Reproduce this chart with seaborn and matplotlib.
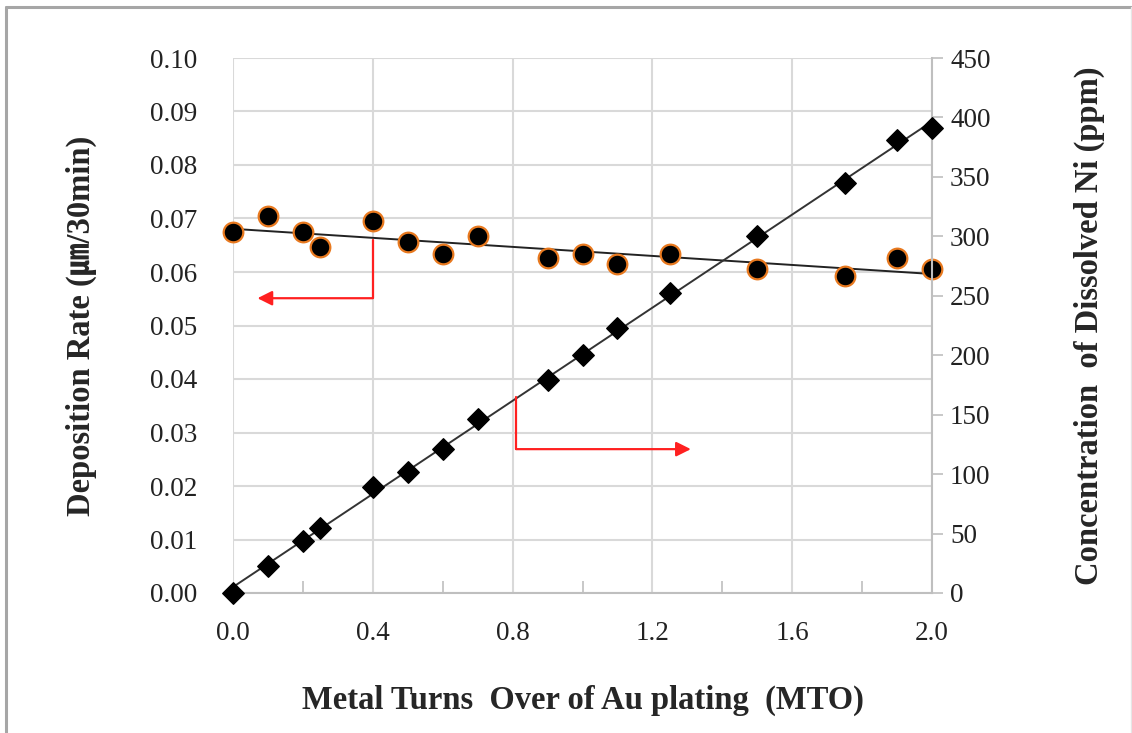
import numpy as np
import pandas as pd
import matplotlib
matplotlib.use("Agg")
import matplotlib.pyplot as plt
from matplotlib.lines import Line2D
from matplotlib.ticker import MultipleLocator, FormatStrFormatter
import seaborn as sns

# Metal turn-over (MTO) of the Au plating bath
mto = [0.0, 0.1, 0.2, 0.25, 0.4, 0.5, 0.6, 0.7, 0.9, 1.0, 1.1, 1.25, 1.5, 1.75, 1.9, 2.0]
# Deposition rate (um / 30 min)
deposition_rate = [0.0675, 0.0705, 0.0675, 0.0647, 0.0695, 0.0656, 0.0634, 0.0667,
                   0.0626, 0.0634, 0.0615, 0.0634, 0.0606, 0.0593, 0.0626, 0.0606]
# Dissolved Ni in the bath (ppm)
dissolved_ni = [0, 23, 44, 55, 89, 102, 121, 146, 179, 200, 223, 252, 300, 345, 381, 391]

x_ticks = [0.0, 0.4, 0.8, 1.2, 1.6, 2.0]

df = pd.DataFrame({"mto": mto, "rate": deposition_rate, "ni": dissolved_ni})

sns.set_theme(style="white")
plt.rcParams["font.family"] = ["Liberation Serif", "Noto Sans CJK JP"]

W, H = 1132, 733
fig = plt.figure(figsize=(W / 100, H / 100), dpi=100)
fig.patch.set_facecolor("white")
ax = fig.add_axes([233 / W, 1 - 593 / H, (932 - 233) / W, (593 - 58) / H])
ax2 = ax.twinx()

grid_c = "#d9d9d9"
tick_fs = 19.5
label_fs = 23.5

# deposition rate: black dots with orange rim and a linear trend
sns.regplot(data=df, x="mto", y="rate", ax=ax, ci=None, truncate=True,
            scatter_kws=dict(s=200, color="black", edgecolors="#e8791f", alpha=1,
                             linewidths=1.6, zorder=4, clip_on=False),
            line_kws=dict(color="#222222", lw=1.4, zorder=3))

# dissolved Ni: black diamonds with a linear trend
sns.regplot(data=df, x="mto", y="ni", ax=ax2, ci=None, truncate=True, marker="D",
            scatter_kws=dict(s=120, color="black", edgecolors="black", alpha=1,
                             zorder=4, clip_on=False),
            line_kws=dict(color="#333333", lw=1.4, zorder=3))

ax.set_xlim(0, 2.0)
ax.set_ylim(0, 0.10)
ax2.set_ylim(0, 450)

ax.set_xticks(x_ticks)
ax.set_xticklabels([f"{v:.1f}" for v in x_ticks])
ax.xaxis.set_minor_locator(MultipleLocator(0.2))
ax.yaxis.set_major_locator(MultipleLocator(0.01))
ax.yaxis.set_major_formatter(FormatStrFormatter("%.2f"))
ax2.yaxis.set_major_locator(MultipleLocator(50))

ax.grid(True, which="major", color=grid_c, lw=1.5, zorder=0)
ax.set_axisbelow(True)

for a in (ax, ax2):
    for s in ("top", "left", "right", "bottom"):
        a.spines[s].set_visible(False)
ax2.spines["right"].set_visible(True)
ax2.spines["right"].set_color("#bfbfbf")
ax2.spines["right"].set_linewidth(1.5)
ax.spines["bottom"].set_visible(True)
ax.spines["bottom"].set_color("#bfbfbf")
ax.spines["bottom"].set_linewidth(1.5)

ax.tick_params(axis="y", length=0, pad=26, labelsize=tick_fs, labelcolor="#222222")
ax.tick_params(axis="x", which="major", length=0, pad=20, labelsize=tick_fs,
               labelcolor="#222222")
ax.tick_params(axis="x", which="minor", direction="in", length=9, width=1.2,
               color="#bfbfbf", bottom=True)
ax2.tick_params(axis="y", direction="out", length=8, width=1.2, color="#bfbfbf",
                pad=5, labelsize=tick_fs, labelcolor="#222222")

ax.set_xlabel("Metal Turns  Over of Au plating  (MTO)", fontsize=label_fs,
              fontweight="bold", labelpad=28)
ax.set_ylabel("Deposition Rate (\u339b/30min)", fontsize=label_fs,
              fontweight="bold", labelpad=38)
ax2.set_ylabel("Concentration  of Dissolved Ni (ppm)", fontsize=label_fs,
               fontweight="bold", labelpad=60)

# guide arrows pointing each series to its axis
red = "#ff2020"
ax.plot([0.40, 0.40], [0.0660, 0.0551], color=red, lw=1.6, zorder=5)
ax.annotate("", xy=(0.07, 0.0551), xytext=(0.4, 0.0551),
            arrowprops=dict(arrowstyle="-|>", color=red, lw=1.6,
                            mutation_scale=22, shrinkA=0, shrinkB=0), zorder=5)
ax2.plot([0.81, 0.81], [165, 121], color=red, lw=1.6, zorder=5)
ax2.annotate("", xy=(1.31, 121), xytext=(0.81, 121),
             arrowprops=dict(arrowstyle="-|>", color=red, lw=1.6,
                             mutation_scale=22, shrinkA=0, shrinkB=0), zorder=5)

# thin frame along the left and top edges
fig.add_artist(Line2D([6 / W, 6 / W], [0, 1 - 7 / H], color="#a6a6a6", lw=2.2))
fig.add_artist(Line2D([6 / W, 1], [1 - 7 / H, 1 - 7 / H], color="#a6a6a6", lw=2.2))
fig.add_artist(Line2D([1 - 1.5 / W, 1 - 1.5 / W], [0, 1 - 7 / H], color="#e6e6e6", lw=1))

fig.savefig("out.png", dpi=100)
